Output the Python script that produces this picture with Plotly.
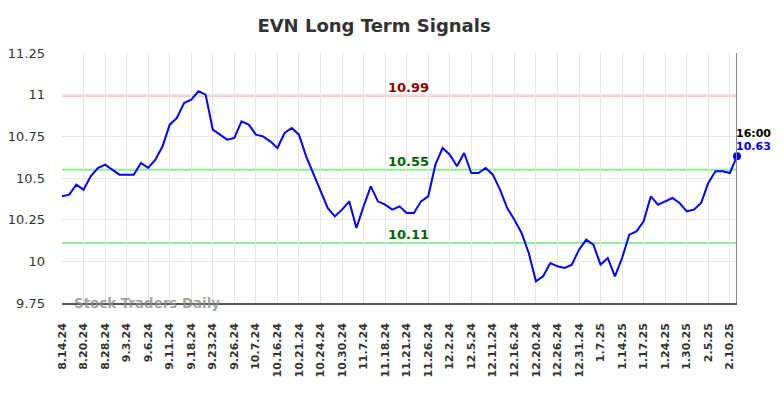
import plotly.graph_objects as go

tick_labels = ["8.14.24", "8.20.24", "8.28.24", "9.3.24", "9.6.24", "9.11.24", "9.18.24",
               "9.23.24", "9.26.24", "10.7.24", "10.16.24", "10.21.24", "10.24.24", "10.30.24",
               "11.7.24", "11.18.24", "11.21.24", "11.26.24", "12.2.24", "12.5.24", "12.11.24",
               "12.16.24", "12.20.24", "12.26.24", "12.31.24", "1.7.25", "1.14.25", "1.17.25",
               "1.24.25", "1.30.25", "2.5.25", "2.10.25"]

prices = [10.39, 10.40, 10.46, 10.43, 10.51, 10.56, 10.58, 10.55, 10.52, 10.52,
          10.52, 10.59, 10.56, 10.61, 10.69, 10.82, 10.86, 10.95, 10.97, 11.02,
          11.00, 10.79, 10.76, 10.73, 10.74, 10.84, 10.82, 10.76, 10.75, 10.72,
          10.68, 10.77, 10.80, 10.76, 10.63, 10.53, 10.43, 10.32, 10.27, 10.31,
          10.36, 10.20, 10.33, 10.45, 10.36, 10.34, 10.31, 10.33, 10.29, 10.29,
          10.36, 10.39, 10.58, 10.68, 10.64, 10.57, 10.65, 10.53, 10.53, 10.56,
          10.52, 10.43, 10.32, 10.25, 10.17, 10.05, 9.88, 9.91, 9.99, 9.97,
          9.96, 9.98, 10.07, 10.13, 10.10, 9.98, 10.02, 9.91, 10.02, 10.16,
          10.18, 10.24, 10.39, 10.34, 10.36, 10.38, 10.35, 10.30, 10.31, 10.35,
          10.47, 10.54, 10.54, 10.53, 10.63]

resistance = 10.99
mid_level = 10.55
support = 10.11
last_time = "16:00"

x = list(range(len(prices)))
tick_step = 3
tickvals = [i * tick_step for i in range(len(tick_labels))]
last_i = x[-1]
last_p = prices[-1]

fig = go.Figure()
fig.add_trace(go.Scatter(x=x, y=prices, mode="lines",
                         line=dict(color="#0000ff", width=2), hoverinfo="skip", cliponaxis=False))
fig.add_trace(go.Scatter(x=[last_i], y=[last_p], mode="markers",
                         marker=dict(color="#0000ff", size=8), hoverinfo="skip", cliponaxis=False))

for val, col in [(resistance, "#ffcccc"), (mid_level, "#90ee90"), (support, "#90ee90")]:
    fig.add_shape(type="line", xref="paper", x0=0, x1=1, yref="y", y0=val, y1=val,
                  line=dict(color=col, width=2), layer="below")

fig.add_shape(type="line", xref="x", x0=last_i, x1=last_i, yref="paper", y0=0, y1=1,
              line=dict(color="#888888", width=2))

for val, col in [(resistance, "#8b0000"), (mid_level, "#006400"), (support, "#006400")]:
    fig.add_annotation(x=0.514, xref="paper", y=val, yref="y", text=f"{val:.2f}",
                       showarrow=False, yanchor="bottom", yshift=-1,
                       font=dict(family="DejaVu Sans", size=13, color=col, weight="bold"))

fig.add_annotation(x=last_i, y=last_p, xref="x", yref="y", text=last_time, showarrow=False,
                   xanchor="left", yanchor="bottom", xshift=-3, yshift=14,
                   font=dict(family="DejaVu Sans", size=11, color="#000000", weight="bold"))
fig.add_annotation(x=last_i, y=last_p, xref="x", yref="y", text=f"{last_p:.2f}", showarrow=False,
                   xanchor="left", yanchor="bottom", xshift=-3, yshift=1,
                   font=dict(family="DejaVu Sans", size=11, color="#0000ff", weight="bold"))

fig.add_annotation(x=(74 - 62) / 675, xref="paper", y=0, yref="paper", text="Stock Traders Daily",
                   showarrow=False, xanchor="left", yanchor="middle", xshift=-2,
                   font=dict(family="DejaVu Sans", size=13.4, color="rgba(140,140,140,0.8)", weight="bold"))

fig.update_layout(
    width=784, height=398,
    margin=dict(l=62, r=47, t=53, b=95),
    paper_bgcolor="white", plot_bgcolor="white",
    showlegend=False,
    title=dict(text="EVN Long Term Signals", x=374 / 784, xanchor="center", y=1 - 26 / 398,
               yanchor="middle",
               font=dict(family="DejaVu Sans", size=18, color="#333333", weight="bold")),
    xaxis=dict(range=[0, last_i], tickvals=tickvals, ticktext=tick_labels, tickangle=-90,
               showgrid=True, gridcolor="#e6e6e6", gridwidth=1, zeroline=False,
               showline=True, linecolor="#555555", linewidth=1.5, ticks="",
               ticklabelstandoff=14, automargin=False,
               tickfont=dict(family="DejaVu Sans", size=11, color="#333333", weight="bold")),
    yaxis=dict(range=[9.75, 11.25], tickvals=[9.75, 10, 10.25, 10.5, 10.75, 11, 11.25],
               ticktext=["9.75", "10", "10.25", "10.5", "10.75", "11", "11.25"],
               showgrid=True, gridcolor="#e6e6e6", gridwidth=1, zeroline=False,
               showline=False, ticks="", ticklabelstandoff=16, automargin=False,
               tickfont=dict(family="DejaVu Sans", size=13, color="#333333")),
)

fig.write_html("out.html", config={"displayModeBar": False},
               post_script="document.body.style.margin='0';document.body.style.overflow='hidden';")
